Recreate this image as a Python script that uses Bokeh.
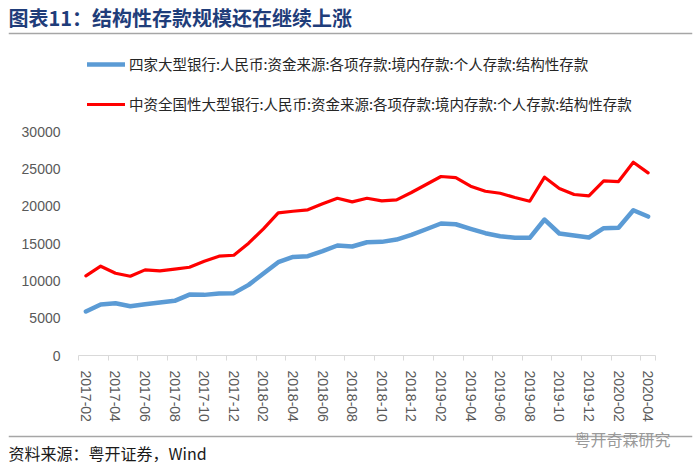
from bokeh.plotting import figure
from bokeh.models import (Range1d, FixedTicker, NumeralTickFormatter, Label, Span,
                          Legend, LegendItem)
from bokeh.layouts import column
from bokeh.embed import file_html
from bokeh.resources import INLINE

months = ["2017-02", "2017-03", "2017-04", "2017-05", "2017-06", "2017-07", "2017-08",
          "2017-09", "2017-10", "2017-11", "2017-12", "2018-01", "2018-02", "2018-03",
          "2018-04", "2018-05", "2018-06", "2018-07", "2018-08", "2018-09", "2018-10",
          "2018-11", "2018-12", "2019-01", "2019-02", "2019-03", "2019-04", "2019-05",
          "2019-06", "2019-07", "2019-08", "2019-09", "2019-10", "2019-11", "2019-12",
          "2020-01", "2020-02", "2020-03", "2020-04"]

big4 = [5890, 6830, 7000, 6600, 6870, 7100, 7320, 8160, 8120, 8300, 8350, 9460,
        10980, 12500, 13200, 13300, 13970, 14730, 14600, 15170, 15220, 15530, 16160,
        16910, 17680, 17580, 16960, 16380, 15980, 15760, 15760, 18210, 16340, 16070,
        15800, 17050, 17100, 19460, 18610]

national = [10670, 11960, 11020, 10620, 11470, 11340, 11560, 11820, 12630, 13300,
            13430, 15040, 16960, 19100, 19320, 19510, 20310, 21060, 20580, 21060,
            20710, 20840, 21830, 22900, 23970, 23830, 22670, 22000, 21730, 21160,
            20660, 23880, 22360, 21560, 21380, 23390, 23300, 25890, 24460]

y_ticks = [0, 5000, 10000, 15000, 20000, 25000, 30000]

name_big4 = "四家大型银行:人民币:资金来源:各项存款:境内存款:个人存款:结构性存款"
name_nat = "中资全国性大型银行:人民币:资金来源:各项存款:境内存款:个人存款:结构性存款"
title_text = "图表11：结构性存款规模还在继续上涨"
source_text = "资料来源：粤开证券，Wind"
watermark = "粤开奇霖研究"

BLUE, RED = "#5B9BD5", "#FF0000"
RULE = "#A6A6A6"
W = 700
CJK = "Noto Sans CJK SC"

def blank(height):
    f = figure(width=W, height=height, output_backend="svg", toolbar_location=None,
               x_range=Range1d(8, W - 8), y_range=Range1d(height, 0),
               min_border_left=8, min_border_right=8, min_border_top=0,
               min_border_bottom=0, x_axis_location=None, y_axis_location=None,
               title=None)
    f.outline_line_color = None
    f.grid.grid_line_color = None
    return f

# ---------- header: title and rule ----------
HH = 45
head = blank(HH)
head.add_layout(Label(x=8, y=17, text=title_text, text_font=CJK,
                      text_font_size="20px", text_font_style="bold", text_color="#1F3D7A",
                      text_align="left", text_baseline="middle"))
head.add_layout(Span(location=33, dimension="width", line_color=RULE, line_width=1.5))

# ---------- main chart ----------
# plot frame runs from y=45 to y=355 (page px); value 30000 sits at y=131
n = len(months)
FOOT_TOP = 428
FRAME_TOP, ZERO_Y, TOP_Y = HH, 355, 131
y_max = 30000 * (ZERO_Y - FRAME_TOP) / (ZERO_Y - TOP_Y)
p = figure(width=W, height=FOOT_TOP - HH, output_backend="svg", toolbar_location=None,
           x_range=Range1d(-0.5, n - 0.5), y_range=Range1d(0, y_max),
           min_border_left=78, min_border_right=45, min_border_top=0,
           min_border_bottom=FOOT_TOP - ZERO_Y, title=None)
p.outline_line_color = None
p.grid.grid_line_color = None

xs = list(range(n))
r1 = p.line(xs, big4, line_color=BLUE, line_width=4.5, line_join="round", line_cap="round")
r2 = p.line(xs, national, line_color=RED, line_width=3.2, line_join="round", line_cap="round")

legend = Legend(items=[LegendItem(label=name_big4, renderers=[r1]),
                       LegendItem(label=name_nat, renderers=[r2])],
                location=(9, ZERO_Y - 114), orientation="vertical",
                glyph_width=38, glyph_height=20, label_height=20, spacing=19,
                label_standoff=4, padding=0, margin=0,
                border_line_color=None, background_fill_alpha=0,
                label_text_font=CJK, label_text_font_size="14.5px",
                label_text_color="#262626")
p.add_layout(legend, "center")

xa = p.xaxis[0]
major = list(range(0, n, 2))
minor = [i - 0.5 for i in range(0, n, 2)] + [n - 0.5]
xa.ticker = FixedTicker(ticks=major, minor_ticks=minor)
xa.major_label_overrides = {i: months[i] for i in major}
xa.major_label_orientation = "vertical"
xa.major_tick_out = 0
xa.major_tick_in = 0
xa.minor_tick_out = 5
xa.minor_tick_in = 0
xa.minor_tick_line_color = "#D9D9D9"
xa.axis_line_color = "#D9D9D9"
xa.major_label_standoff = 10
xa.major_label_text_font = "Liberation Sans"
xa.major_label_text_font_size = "14px"
xa.major_label_text_color = "#595959"

ya = p.yaxis[0]
ya.ticker = FixedTicker(ticks=y_ticks)
ya.formatter = NumeralTickFormatter(format="0")
ya.axis_line_color = None
ya.major_tick_line_color = None
ya.minor_tick_line_color = None
ya.major_label_standoff = 12
ya.major_label_text_font = "Liberation Sans"
ya.major_label_text_font_size = "14px"
ya.major_label_text_color = "#595959"

# ---------- footer: rule, source, watermark ----------
FH = 469 - FOOT_TOP
foot = blank(FH)
foot.add_layout(Span(location=8, dimension="width", line_color=RULE, line_width=1.5))
foot.add_layout(Label(x=8, y=24, text=source_text, text_font=CJK,
                      text_font_size="16px", text_color="#1A1A1A",
                      text_align="left", text_baseline="middle"))
foot.add_layout(Label(x=574, y=10.5, text=watermark, text_font=CJK,
                      text_font_size="16px", text_color="#8C8C8C", text_alpha=0.9,
                      text_align="left", text_baseline="middle"))

layout = column(column(head), column(p), column(foot), spacing=0)
open("out.html", "w").write(file_html(layout, INLINE))
